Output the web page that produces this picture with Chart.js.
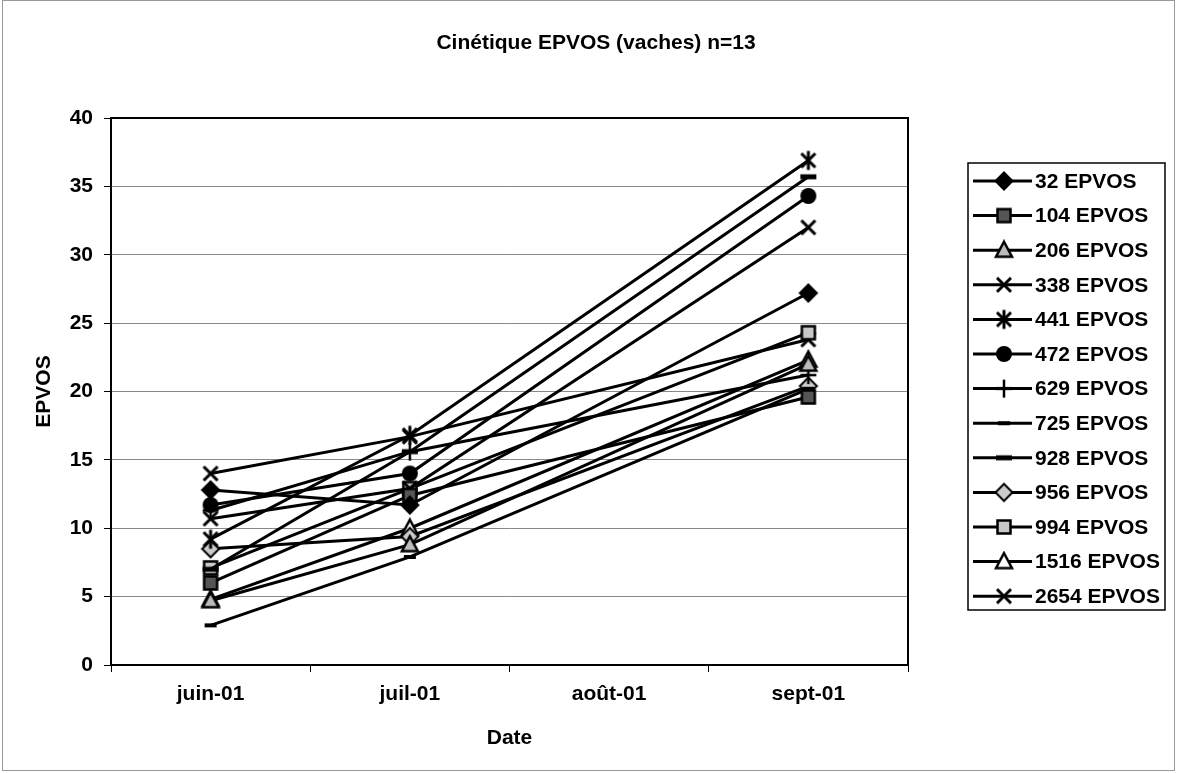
<!DOCTYPE html>
<html>
<head>
<meta charset="utf-8">
<script src="https://cdn.jsdelivr.net/npm/chart.js@4.4.0/dist/chart.umd.min.js"></script>
<style>
  html, body { margin: 0; padding: 0; background: #fff; }
  canvas { display: block; }
</style>
</head>
<body>
<canvas id="myChart" width="1177" height="773"></canvas>
<script>
// dates (août has no measure, the line just spans it)
const months = ['juin-01', 'juil-01', 'août-01', 'sept-01']
const yMin = 0
const yMax = 40
const yStep = 5

const labels = ['32 EPVOS', '104 EPVOS', '206 EPVOS', '338 EPVOS', '441 EPVOS', '472 EPVOS', '629 EPVOS',
  '725 EPVOS', '928 EPVOS', '956 EPVOS', '994 EPVOS', '1516 EPVOS', '2654 EPVOS']

const v32 = [12.8, 11.7, null, 27.2]
const v104 = [6.0, 12.4, null, 19.6]
const v206 = [4.7, 8.8, null, 22.0]
const v338 = [10.7, 12.9, null, 32.0]
const v441 = [9.2, 16.8, null, 36.9]
const v472 = [11.7, 14.0, null, 34.3]
const v629 = [11.3, 15.6, null, 21.2]
const v725 = [2.9, 7.9, null, 20.2]
const v928 = [7.0, 15.6, null, 35.7]
const v956 = [8.5, 9.4, null, 20.4]
const v994 = [7.1, 12.9, null, 24.3]
const v1516 = [4.8, 10.0, null, 22.3]
const v2654 = [14.0, 16.7, null, 23.8]

const FONT = 'Arial, "Liberation Sans", sans-serif'
const TITLE = 'Cinétique EPVOS (vaches) n=13'

// little canvases used as point styles, same in chart and legend
function marker(kind, fill) {
  const c = document.createElement('canvas')
  c.width = 22
  c.height = 22
  const g = c.getContext('2d')
  g.translate(11, 11)
  g.strokeStyle = '#000'
  g.fillStyle = fill || '#000'
  g.lineWidth = 2
  if (kind === 'diamond') {
    g.beginPath(); g.moveTo(0, -8.5); g.lineTo(8.5, 0); g.lineTo(0, 8.5); g.lineTo(-8.5, 0); g.closePath()
    g.fill(); g.stroke()
  } else if (kind === 'square') {
    g.fillRect(-6.5, -6.5, 13, 13); g.lineWidth = 2.5; g.strokeRect(-6.5, -6.5, 13, 13)
  } else if (kind === 'triangle') {
    g.beginPath(); g.moveTo(0, -8.5); g.lineTo(8, 6.5); g.lineTo(-8, 6.5); g.closePath()
    g.fill(); g.lineWidth = 2.5; g.stroke()
  } else if (kind === 'x' || kind === 'asterisk') {
    g.lineWidth = 3
    g.beginPath(); g.moveTo(-7, -7); g.lineTo(7, 7); g.moveTo(7, -7); g.lineTo(-7, 7); g.stroke()
    if (kind === 'asterisk') { g.beginPath(); g.moveTo(0, -9.5); g.lineTo(0, 9.5); g.stroke() }
  } else if (kind === 'circle') {
    g.beginPath(); g.arc(0, 0, 8, 0, Math.PI * 2); g.fill()
  } else if (kind === 'plus') {
    g.lineWidth = 2.5
    g.beginPath(); g.moveTo(-8, 0); g.lineTo(8, 0); g.moveTo(0, -9); g.lineTo(0, 9); g.stroke()
  } else if (kind === 'dash') {
    g.fillRect(-8, -2.5, 16, 5)
  } else if (kind === 'dashThin') {
    g.fillRect(-6, -2, 12, 4)
  }
  return c
}

const styles = [
  marker('diamond'),
  marker('square', '#555'),
  marker('triangle', '#bbb'),
  marker('x'),
  marker('asterisk'),
  marker('circle'),
  marker('plus'),
  marker('dashThin'),
  marker('dash'),
  marker('diamond', '#ccc'),
  marker('square', '#c8c8c8'),
  marker('triangle', '#fff'),
  marker('x')
]
const series = [v32, v104, v206, v338, v441, v472, v629, v725, v928, v956, v994, v1516, v2654]

const datasets = series.map((d, i) => ({
  label: labels[i],
  data: d,
  borderColor: '#000',
  borderWidth: 3,
  pointStyle: styles[i],
  pointRadius: 7,
  spanGaps: true,
  tension: 0
}))

// title, plot frame, outer frame and the boxed legend
const framePlugin = {
  id: 'frame',
  afterDraw(chart) {
    const { ctx, chartArea } = chart
    ctx.save()
    ctx.fillStyle = '#000'
    ctx.textAlign = 'center'
    ctx.textBaseline = 'middle'
    ctx.font = 'bold 21px ' + FONT
    ctx.fillText(TITLE, 596, 43)

    ctx.strokeStyle = '#000'
    ctx.lineWidth = 2
    ctx.strokeRect(chartArea.left, chartArea.top, chartArea.right - chartArea.left, chartArea.bottom - chartArea.top)

    ctx.strokeStyle = '#999'
    ctx.lineWidth = 1
    ctx.strokeRect(2.5, 0.5, 1172, 770)

    // legend
    ctx.strokeStyle = '#000'
    ctx.lineWidth = 1.5
    ctx.strokeRect(968, 163, 197, 447)
    ctx.textAlign = 'left'
    chart.data.datasets.forEach((ds, i) => {
      const y = 181 + i * 34.6
      ctx.lineWidth = 3
      ctx.beginPath()
      ctx.moveTo(973, y)
      ctx.lineTo(1032, y)
      ctx.stroke()
      const img = ds.pointStyle
      ctx.drawImage(img, 1004 - img.width / 2, y - img.height / 2)
      ctx.fillText(ds.label, 1035, y + 1)
    })
    ctx.restore()
  }
}

new Chart(document.getElementById('myChart'), {
  type: 'line',
  data: { labels: months, datasets },
  plugins: [framePlugin],
  options: {
    responsive: false,
    animation: false,
    layout: { padding: { left: 0, right: 269, top: 118, bottom: 0 } },
    plugins: {
      legend: { display: false },
      tooltip: { enabled: false }
    },
    scales: {
      x: {
        offset: true,
        grid: { offset: true, drawOnChartArea: false, drawTicks: true, tickLength: 7, tickColor: '#000' },
        border: { display: false },
        ticks: { color: '#000', padding: 10, maxRotation: 0, font: { family: FONT, size: 21, weight: 'bold' } },
        title: {
          display: true, text: 'Date', color: '#000',
          font: { family: FONT, size: 21, weight: 'bold' },
          padding: { top: 22, bottom: 22 }
        },
        afterFit(scale) { scale.height = 108 }
      },
      y: {
        min: yMin,
        max: yMax,
        grid: { color: '#888', lineWidth: 1, tickLength: 7, tickColor: '#000' },
        border: { display: false },
        ticks: { stepSize: yStep, color: '#000', padding: 11, font: { family: FONT, size: 21, weight: 'bold' } },
        title: {
          display: true, text: 'EPVOS', color: '#000',
          font: { family: FONT, size: 21, weight: 'bold' },
          padding: { top: 32, bottom: 32 }
        },
        afterFit(scale) { scale.width = 111 }
      }
    }
  }
})
</script>
</body>
</html>
